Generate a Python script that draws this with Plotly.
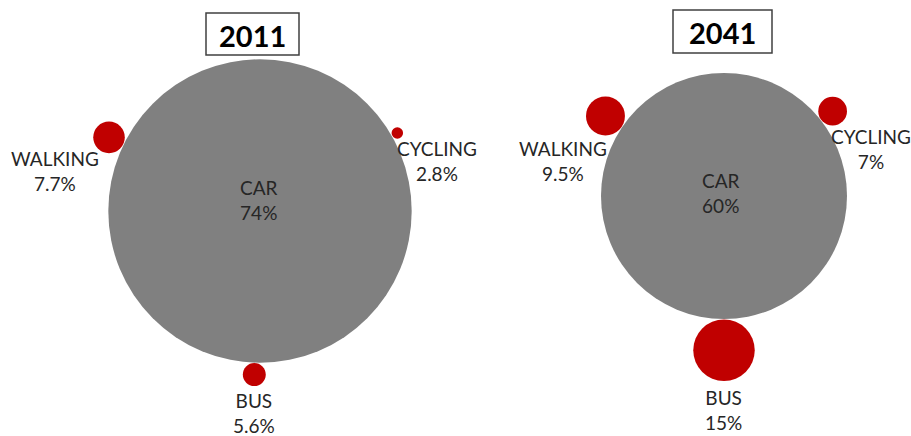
import math
import plotly.graph_objects as go

# ---- data ----
years = ["2011", "2041"]
modes = ["CAR", "WALKING", "CYCLING", "BUS"]
share_2011 = [74, 7.7, 2.8, 5.6]
share_2011_labels = ["74%", "7.7%", "2.8%", "5.6%"]
share_2041 = [60, 9.5, 7, 15]
share_2041_labels = ["60%", "9.5%", "7%", "15%"]

# ---- layout constants (pixel space) ----
W, H = 911, 436
K = 2.05  # px radius per percentage point
centers = {"2011": (260, 211), "2041": (724, 196)}
angles = {"2011": [None, 154, 29.6, -92], "2041": [None, 146, 38, -90]}
label_pos = {
    "2011": [(259, 200), (55, 171), (437, 161), (254, 413)],
    "2041": [(721, 193), (563, 161), (871, 149), (723, 410)],
}
title_box = {"2011": (206, 13, 299, 55), "2041": (673, 10, 772, 53)}

GRAY = "#808080"
RED = "#C00000"
TXT = "#262626"
FONT = "Lato"

fig = go.Figure()
annotations = []
shapes = []

for year, vals, labs in [("2011", share_2011, share_2011_labels),
                         ("2041", share_2041, share_2041_labels)]:
    cx, cy = centers[year]
    R = vals[0] * K
    xs, ys, sizes, colors = [cx], [cy], [2 * R], [GRAY]
    for i in range(1, len(vals)):
        r = vals[i] * K
        a = math.radians(angles[year][i])
        d = R + r + 0.5
        xs.append(cx + d * math.cos(a))
        ys.append(cy - d * math.sin(a))
        sizes.append(2 * r)
        colors.append(RED)
    fig.add_trace(go.Scatter(
        x=xs, y=ys, mode="markers",
        marker=dict(size=sizes, sizemode="diameter", color=colors,
                    line=dict(width=0), opacity=1),
        hoverinfo="skip", showlegend=False, cliponaxis=False))
    for i, m in enumerate(modes):
        lx, ly = label_pos[year][i]
        annotations.append(dict(
            x=lx, y=ly, xref="x", yref="y", showarrow=False,
            text=f"{m}<br>{labs[i]}", align="center",
            font=dict(family=FONT, size=19, color=TXT)))
    x0, y0, x1, y1 = title_box[year]
    shapes.append(dict(type="rect", xref="x", yref="y", x0=x0, y0=y0, x1=x1, y1=y1,
                       line=dict(color="#404040", width=1.5), fillcolor="white"))
    annotations.append(dict(
        x=(x0 + x1) / 2, y=(y0 + y1) / 2 + 1, xref="x", yref="y", showarrow=False,
        text=f"<b>{year}</b>", font=dict(family=FONT, size=29, color="#000000")))

fig.update_layout(
    width=W, height=H,
    margin=dict(l=0, r=0, t=0, b=0),
    paper_bgcolor="white", plot_bgcolor="white",
    xaxis=dict(range=[0, W], visible=False, fixedrange=True),
    yaxis=dict(range=[H, 0], visible=False, fixedrange=True),
    annotations=annotations, shapes=shapes,
)

fig.write_html(
    "out.html",
    config={"displayModeBar": False},
    post_script="document.body.style.margin='0';document.body.style.overflow='hidden';",
)
